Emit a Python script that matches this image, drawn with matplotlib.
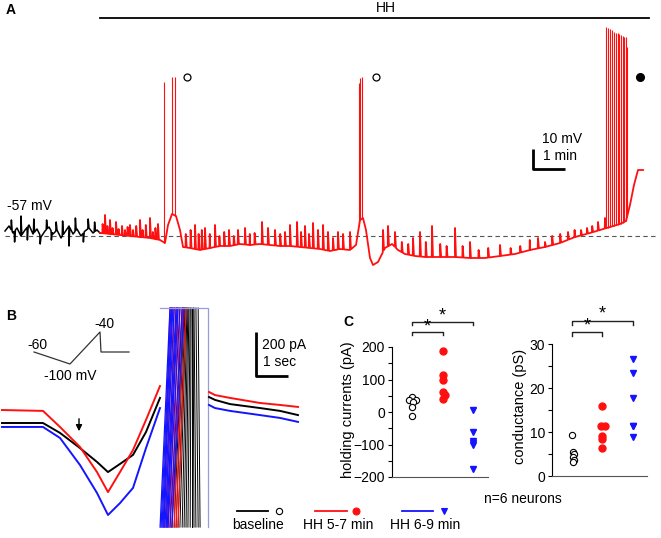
import numpy as np
import matplotlib
matplotlib.use("Agg")
import matplotlib.pyplot as plt

plt.rcParams['font.family'] = ['Liberation Sans', 'DejaVu Sans']

# ======================= DATA =======================
# ---- Panel A: membrane potential (mV) vs time (min)
a_rest_mv = -57
a_hh_start, a_hh_end = 2.97, 20.125
a_base_t = [0, 0.125, 0.25, 0.375, 0.5, 0.625, 0.75, 0.875, 1.0, 1.125, 1.25, 1.375,
            1.5, 1.625, 1.75, 1.875, 2.0, 2.125, 2.25, 2.375, 2.5, 2.625, 2.75, 2.875, 2.97]
a_base_v = [-54.5, -52, -55.5, -53, -57, -54, -51.5, -56, -53.5, -57.5, -54.5, -52.5,
            -56, -54, -58, -55, -52, -56, -53.5, -57, -54.5, -53, -55.5, -54, -55.5]
a_base_ev_t = [0.2, 0.3, 0.5, 0.7, 0.9, 1.1, 1.3, 1.45, 1.6, 1.8, 2.0, 2.2, 2.45, 2.6, 2.8]
a_base_ev_v = [-49, -60, -47, -59, -48.5, -61, -49, -59, -50, -49.5, -62, -48, -60, -48.5, -50]

a_hh_t = [2.969, 3.281, 3.594, 3.906, 4.219, 4.531, 4.844, 5.0, 5.094, 5.219, 5.344, 5.469,
          5.563, 5.781, 6.094, 6.406, 6.719, 7.031, 7.344, 7.656, 7.969, 8.281, 8.594, 8.906,
          9.219, 9.531, 9.844, 10.156, 10.469, 10.781, 10.969, 11.094, 11.188, 11.281, 11.406,
          11.5, 11.656, 11.875, 12.094, 12.281, 12.5, 12.813, 13.125, 13.594, 14.063, 14.531,
          15.0, 15.469, 15.938, 16.406, 16.875, 17.344, 17.813, 18.281, 18.594, 18.906, 19.219,
          19.406, 19.531, 19.656, 19.781, 19.938]
a_hh_v = [-55.5, -56, -56.5, -57, -57.5, -58, -59, -60.5, -51.5, -46, -47, -54,
          -62.5, -63, -64, -63, -62, -62, -61, -61.5, -61, -61.5, -62, -62,
          -62.5, -63, -63.5, -64.5, -63.5, -64, -61.5, -49, -48, -54, -68,
          -71.5, -70, -63, -61, -64, -66, -67, -67.5, -67.5, -67.5, -68,
          -68, -67, -66, -64, -62.5, -60.5, -57.5, -55.5, -54, -52.5, -51,
          -49.5, -41.5, -31.5, -24, -24]
a_psp_t = [3.05, 3.125, 3.2, 3.281, 3.36, 3.469, 3.55, 3.656, 3.75, 3.83, 3.906, 4.0, 4.1,
           4.219, 4.3, 4.4, 4.531, 4.62, 4.7, 4.781, 5.65, 5.8, 5.938, 6.05, 6.15, 6.25, 6.4,
           6.563, 6.7, 6.85, 7.0, 7.15, 7.281, 7.5, 7.65, 7.8, 8.031, 8.219, 8.438, 8.6, 8.75,
           8.906, 9.125, 9.25, 9.375, 9.5, 9.625, 9.781, 9.938, 10.094, 10.25, 10.406, 10.563,
           10.781, 11.813, 11.969, 12.188, 12.4, 12.6, 12.75, 12.969, 13.15, 13.344, 13.6,
           13.8, 14.063, 14.3, 14.531, 14.8, 15.1, 15.469, 15.8, 16.1, 16.4, 16.656, 16.875,
           17.1, 17.35, 17.594, 17.8, 18.0, 18.188, 18.35, 18.531, 18.75]
a_psp_v = [-51, -46.5, -52, -49, -53, -50, -53.5, -52, -54, -52.5, -51.5, -54, -52,
           -49, -54, -51.5, -48, -55, -53, -51, -56, -54, -51.5, -56, -54, -53, -56,
           -51.5, -57, -55, -54, -57, -54, -53, -56, -55.5, -50, -53, -54, -56, -55,
           -51.5, -50, -55, -52, -56, -50.5, -54, -51.5, -55, -58, -55, -56,
           -55, -54, -52, -55, -60, -61, -58, -55, -60, -52, -61,
           -62, -53, -62, -60, -64, -63, -61.5, -63, -62, -59, -58, -60,
           -57, -56, -55, -54, -54, -53, -52, -50, -48]
a_spike_t = [4.984, 5.234, 5.328, 11.063, 11.109, 11.156,
             18.781, 18.844, 18.906, 18.969, 19.031, 19.094, 19.141, 19.188, 19.25,
             19.297, 19.344, 19.391, 19.438]
a_spike_v = [20, 22.5, 22.5, 19.5, 22, 22.5,
             47.5, 47, 46.5, 46, 45, 44.5, 44.5, 44, 43.5, 43, 42.5, 42.5, 37.5]

# ---- Panel B: ramp currents (pA) vs time (s)
b_t = [0, 1.281, 1.8125, 2.4375, 2.969, 3.3125, 3.6875, 4.094, 4.5, 4.9375]
b_base_i = [0, 0, -45, -114, -177, -223, -186, -145, -41, 114]
b_hh57_i = [59, 55, -18, -109, -223, -314, -223, -123, 14, 168]
b_hh69_i = [-18, -18, -68, -191, -318, -418, -364, -295, -114, 68]
b_t2 = [6.469, 6.656, 7.125, 8.0625, 8.6875, 9.25]
b_base_i2 = [118, 105, 86, 68, 55, 36]
b_hh57_i2 = [141, 127, 114, 91, 82, 73]
b_hh69_i2 = [82, 68, 55, 36, 23, 5]
# unclamped escape currents: (time at bottom, time at top) in s
b_fan_base = [(5.31, 5.63), (5.38, 5.66), (5.44, 5.69), (5.5, 5.72), (5.56, 5.75),
              (5.63, 5.78), (5.69, 5.81), (5.75, 5.84), (5.81, 5.88), (5.88, 5.91),
              (5.94, 5.94), (6.0, 5.97), (6.06, 6.0), (6.13, 6.06), (6.19, 6.13)]
b_fan_hh57 = [(5.06, 5.25), (5.13, 5.31), (5.19, 5.38), (5.25, 5.44), (5.31, 5.5),
              (5.38, 5.56), (5.44, 5.66), (5.5, 5.75)]
b_fan_hh69 = [(4.94, 5.25), (4.97, 5.28), (5.0, 5.31), (5.03, 5.34), (5.06, 5.38),
              (5.09, 5.44), (5.13, 5.47), (5.16, 5.5), (5.19, 5.56), (5.25, 5.63), (5.31, 5.69)]

# ---- Panel C
groups = ['baseline', 'HH 5-7 min', 'HH 6-9 min']
hold_base = [46, 36, 36, 31, 15, -13]
hold_hh57 = [188, 113, 100, 61, 53, 41]
hold_hh69 = [5, -60, -88, -96, -100, -174]
cond_base = [9.3, 5.5, 4.9, 4.3, 3.7, 3.2]
cond_hh57 = [15.8, 11.4, 11.4, 9.0, 8.3, 6.3]
cond_hh69 = [26.7, 23.5, 17.8, 11.4, 11.4, 8.9]

# ======================= FIGURE =======================
W, H = 661, 538
fig = plt.figure(figsize=(W / 100, H / 100), dpi=100)

def px_axes(x0, y0, x1, y1, **kw):
    return fig.add_axes([x0 / W, 1 - y1 / H, (x1 - x0) / W, (y1 - y0) / H], **kw)

RED = '#ff1010'
BLUE = '#1414ff'
FS = 10

def merge(tt, vv, ev_t, ev_v, rise, decay):
    """Insert brief transients (fast rise to the event value, then decay) into a trace."""
    base_t = np.array(tt); base_v = np.array(vv)
    pts = list(zip(tt, vv))
    for t, v in zip(ev_t, ev_v):
        pts.append((t - rise, float(np.interp(t - rise, base_t, base_v))))
        pts.append((t, v))
        pts.append((t + decay, float(np.interp(t + decay, base_t, base_v))))
    pts.sort(key=lambda p: p[0])
    return [p[0] for p in pts], [p[1] for p in pts]

# ---------------- Panel A
axA = px_axes(0, 0, 661, 290)
axA.set_xlim(-5 / 32, 656 / 32)
axA.set_ylim(-84, 61)
axA.axis('off')
axA.plot([0, 20.31], [a_rest_mv, a_rest_mv], color='#555555', lw=0.8, dashes=(4, 3))
bt, bv = merge(a_base_t, a_base_v, a_base_ev_t, a_base_ev_v, 0.012, 0.025)
axA.plot(bt, bv, color='black', lw=1.1)
rt, rv = merge(a_hh_t, a_hh_v, a_psp_t, a_psp_v, 0.008, 0.03)
axA.plot(rt, rv, color=RED, lw=1.3)
sb = np.interp(a_spike_t, a_hh_t, a_hh_v)
axA.vlines(a_spike_t, sb, a_spike_v, color=RED, lw=0.8)
# HH application bar
trA = axA.get_xaxis_transform()
axA.plot([a_hh_start, a_hh_end], [1 - 18 / 290] * 2, color='black', lw=1.3, transform=trA, clip_on=False)
axA.text((a_hh_start + a_hh_end) / 2 + 0.35, 1 - 8 / 290, 'HH', transform=trA, ha='center', va='center', fontsize=FS)
# scale bar 10 mV / 1 min
axA.plot([16.5, 16.5, 17.5], [-13.5, -23.5, -23.5], color='black', lw=2.0, solid_capstyle='butt')
axA.text(16.78, -8.5, '10 mV', ha='left', va='center', fontsize=FS)
axA.text(16.81, -17, '1 min', ha='left', va='center', fontsize=FS)
axA.text(-0.5 + 40 / 32, -57 + (236 - 206.5) / 2, '-57 mV', ha='center', va='center', fontsize=FS)
axA.plot([5.69, 11.59], [22.5, 22.5], 'o', mfc='white', mec='black', ms=5, mew=0.9, ls='none')
axA.plot([19.84], [22.5], 'o', color='black', ms=5.5, ls='none')

# ---------------- Panel B
axB = px_axes(0, 300, 300, 535)
axB.set_xlim(-2 / 32, 298 / 32)
axB.set_ylim(-509, 559)
axB.axis('off')
I_BOT, I_TOP = -473, 523
for (tb, tt) in b_fan_base:
    axB.plot([tb, tt], [I_BOT, I_TOP], color='black', lw=0.7)
for (tb, tt) in b_fan_hh57:
    axB.plot([tb, tt], [I_BOT, I_TOP], color=RED, lw=0.9)
for (tb, tt) in b_fan_hh69:
    axB.plot([tb, tt], [I_BOT, I_TOP], color=BLUE, lw=0.9)
axB.plot([4.94, 6.44, 6.44], [I_TOP, I_TOP, I_BOT], color='#9a9ae0', lw=0.9)
axB.plot(b_t, b_base_i, color='black', lw=1.4)
axB.plot(b_t, b_hh57_i, color=RED, lw=1.4)
axB.plot(b_t, b_hh69_i, color=BLUE, lw=1.4)
axB.plot(b_t2, b_hh57_i2, color=RED, lw=1.4)
axB.plot(b_t2, b_base_i2, color='black', lw=1.4)
axB.plot(b_t2, b_hh69_i2, color=BLUE, lw=1.4)
# scale bar 200 pA / 1 s
axB.plot([7.9375, 7.9375, 8.9375], [413.6, 213.6, 213.6], color='black', lw=2.0, solid_capstyle='butt')

# ---------------- Panel C
def style_c(ax):
    for s in ['top', 'right']:
        ax.spines[s].set_visible(False)
    ax.spines['left'].set_linewidth(0.8)
    ax.spines['bottom'].set_linewidth(0.8)
    ax.spines['bottom'].set_color('#555555')
    ax.set_xticks([])
    ax.tick_params(axis='y', which='both', direction='out', length=3, width=0.8, labelsize=10, pad=2)
    ax.patch.set_alpha(0)

def bracket(ax, x0, x1, y, tick, ystar):
    ax.plot([x0, x0, x1, x1], [y - tick, y, y, y - tick], color='#222222', lw=1.0, clip_on=False)
    ax.text((x0 + x1) / 2, ystar, '*', ha='center', va='center', fontsize=13, clip_on=False)

xs = [0, 1, 2]
axH = px_axes(392, 347, 488, 477)
style_c(axH)
axH.set_ylim(-200, 200)
axH.set_xlim(-0.656, 2.49)
axH.set_yticks([-200, -100, 0, 100, 200])
axH.set_yticks([-150, -50, 50, 150], minor=True)
axH.plot(np.array([0, -0.09, 0.13, 0.03, 0, 0]) + xs[0], hold_base, 'o', mfc='white', mec='black', ms=4.5, mew=0.8, ls='none', clip_on=False)
axH.plot(np.array([0, 0, 0, 0, 0.08, 0]) + xs[1], hold_hh57, 'o', color=RED, ms=5, ls='none', clip_on=False)
axH.plot([xs[2]] * 6, hold_hh69, 'v', color=BLUE, ms=5, ls='none', clip_on=False)
axH.set_ylabel('holding currents (pA)', fontsize=10.5)
axH.yaxis.set_label_coords((355 - 392) / 96, (477 - 410) / 130)
bracket(axH, 0, 2, 277, 10, 295)
bracket(axH, 0, 1, 246, 10, 262)

axG = px_axes(552, 344, 647, 476)
style_c(axG)
axG.set_ylim(0, 30)
axG.set_xlim(-0.656, 2.46)
axG.set_yticks([0, 10, 20, 30])
axG.set_yticks([5, 15, 25], minor=True)
axG.plot(np.array([0, 0.02, 0.05, 0.03, 0.05, 0.03]) + xs[0], cond_base, 'o', mfc='white', mec='black', ms=4.5, mew=0.8, ls='none', clip_on=False)
axG.plot(np.array([0, -0.05, 0.09, 0, 0, 0]) + xs[1], cond_hh57, 'o', color=RED, ms=5, ls='none', clip_on=False)
axG.plot([xs[2]] * 6, cond_hh69, 'v', color=BLUE, ms=5, ls='none', clip_on=False)
axG.set_ylabel('conductance (pS)', fontsize=10.5)
axG.yaxis.set_label_coords((527 - 552) / 95, (476 - 406) / 132)
bracket(axG, 0, 2, 35.2, 0.9, 36.8)
bracket(axG, 0, 1, 32.7, 0.9, 34.1)

# ---------------- Overlay for labels, protocol, legend
ov = fig.add_axes([0, 0, 1, 1], zorder=10)
ov.set_xlim(0, W)
ov.set_ylim(H, 0)
ov.axis('off')
ov.patch.set_alpha(0)
ov.text(10.5, 10.5, 'A', fontsize=10, fontweight='bold', ha='center', va='center')
ov.text(11, 316.5, 'B', fontsize=10, fontweight='bold', ha='center', va='center')
ov.text(348.5, 321.5, 'C', fontsize=10, fontweight='bold', ha='center', va='center')
# voltage protocol
ov.plot([34, 70, 100, 101, 129], [352, 364, 332, 352, 352], color='#333333', lw=0.9)
ov.text(37.5, 345, '-60', fontsize=FS, ha='center', va='center')
ov.text(104, 324, '-40', fontsize=FS, ha='center', va='center')
ov.text(70, 376, '-100 mV', fontsize=FS, ha='center', va='center')
ov.text(262, 345, '200 pA', fontsize=FS, ha='left', va='center')
ov.text(263, 362, '1 sec', fontsize=FS, ha='left', va='center')
# arrow
ov.annotate('', xy=(79, 434), xytext=(79, 416),
            arrowprops=dict(arrowstyle='-|>', color='black', lw=1.0, mutation_scale=9))
# legend
leg_items = [('black', 'o', 'white', 'black', 237, 268, 279, 258),
             (RED, 'o', RED, RED, 315, 347, 356, 338),
             (BLUE, 'v', BLUE, BLUE, 402, 433, 444, 425)]
for (c, m, mfc, mec, x0, x1, xm, xt), lab in zip(leg_items, groups):
    ov.plot([x0, x1], [511, 511], color=c, lw=1.3)
    ov.plot([xm], [511], m, mfc=mfc, mec=mec, ms=4.5 if mfc == 'white' else 5, mew=0.8)
    ov.text(xt, 525, lab, fontsize=FS, ha='center', va='center')
ov.text(523, 499, 'n=6 neurons', fontsize=FS, ha='center', va='center')

fig.savefig('out.png', dpi=100)
